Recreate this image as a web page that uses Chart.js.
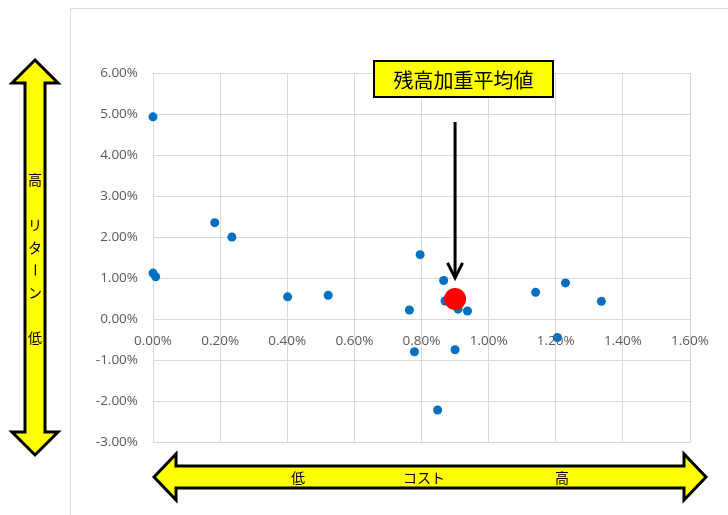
<!DOCTYPE html>
<html>
<head>
<meta charset="utf-8">
<script src="https://cdn.jsdelivr.net/npm/chart.js@4.4.1/dist/chart.umd.min.js"></script>
<style>
  html, body { margin: 0; padding: 0; background: #fff; }
  #wrap { width: 728px; height: 515px; }
</style>
</head>
<body>
<div id="wrap"><canvas id="c" width="728" height="515"></canvas></div>
<script>
// Cost (x, %) and return (y, %) of each fund
const costPct   = [0.000, 0.184, 0.235, 0.000, 0.008, 0.401, 0.522, 0.764, 0.796, 0.779,
                   0.866, 0.870, 0.909, 0.937, 0.900, 0.848, 1.140, 1.229, 1.336, 1.205];
const returnPct = [4.93, 2.35, 2.00, 1.12, 1.03, 0.54, 0.58, 0.22, 1.57, -0.80,
                   0.94, 0.44, 0.24, 0.195, -0.75, -2.22, 0.65, 0.88, 0.43, -0.45];
// Balance-weighted average of the portfolio
const avgCostPct   = [0.900];
const avgReturnPct = [0.49];
// Axis ticks (%)
const xTickValues = [0, 0.2, 0.4, 0.6, 0.8, 1.0, 1.2, 1.4, 1.6];
const yTickValues = [-3, -2, -1, 0, 1, 2, 3, 4, 5, 6];
// Annotation texts
const avgLabel = '残高加重平均値';
const returnAxisChars = ['高', '　', 'リ', 'タ', 'ー', 'ン', '　', '低'];
const costAxisTexts = ['低', 'コスト', '高'];

const pct = v => Number(v).toFixed(2) + '%';
const JP_FONT = '"Noto Sans CJK JP", "Noto Sans", sans-serif';
const TICK_FONT = { family: '"Open Sans", "Liberation Sans", sans-serif', size: 13.5 };

function doubleArrow(ctx, x1, y1, x2, y2, s, h, L) {
  const len = Math.hypot(x2 - x1, y2 - y1);
  const ang = Math.atan2(y2 - y1, x2 - x1);
  ctx.save();
  ctx.translate(x1, y1);
  ctx.rotate(ang);
  ctx.beginPath();
  ctx.moveTo(0, 0);
  ctx.lineTo(L, -h); ctx.lineTo(L, -s); ctx.lineTo(len - L, -s); ctx.lineTo(len - L, -h);
  ctx.lineTo(len, 0);
  ctx.lineTo(len - L, h); ctx.lineTo(len - L, s); ctx.lineTo(L, s); ctx.lineTo(L, h);
  ctx.closePath();
  ctx.fillStyle = '#ffff00';
  ctx.fill();
  ctx.lineWidth = 3;
  ctx.lineJoin = 'miter';
  ctx.strokeStyle = '#000';
  ctx.stroke();
  ctx.restore();
}

const decor = {
  id: 'decor',
  beforeDraw(chart) {
    const ctx = chart.ctx;
    ctx.save();
    ctx.fillStyle = '#fff';
    ctx.fillRect(0, 0, chart.width, chart.height);
    ctx.strokeStyle = '#d9d9d9';
    ctx.lineWidth = 1;
    ctx.strokeRect(70.5, 8.5, 700, 600);
    ctx.restore();
  },
  afterDraw(chart) {
    const ctx = chart.ctx;
    const xs = chart.scales.x, ys = chart.scales.y;

    // Return axis arrow (vertical)
    doubleArrow(ctx, 35, 60, 35, 455, 10, 23, 23);
    ctx.save();
    ctx.fillStyle = '#000';
    ctx.font = '14px ' + JP_FONT;
    ctx.textAlign = 'center';
    ctx.textBaseline = 'middle';
    returnAxisChars.forEach((ch, i) => {
      const y = 180 + i * 22.5;
      if (ch === 'ー') {
        ctx.save();
        ctx.translate(35, y);
        ctx.rotate(Math.PI / 2);
        ctx.fillText(ch, 0, 0);
        ctx.restore();
      } else {
        ctx.fillText(ch, 35, y);
      }
    });
    ctx.restore();

    // Cost axis arrow (horizontal)
    doubleArrow(ctx, 154, 477, 706, 477, 11, 23, 22);
    ctx.save();
    ctx.fillStyle = '#000';
    ctx.font = '14px ' + JP_FONT;
    ctx.textAlign = 'center';
    ctx.textBaseline = 'middle';
    [298, 424, 562].forEach((x, i) => ctx.fillText(costAxisTexts[i], x, 478));
    ctx.restore();

    // Label box and arrow pointing to the weighted average
    ctx.save();
    ctx.fillStyle = '#ffff00';
    ctx.fillRect(374, 61, 179, 36);
    ctx.lineWidth = 2;
    ctx.strokeStyle = '#000';
    ctx.strokeRect(374, 61, 179, 36);
    ctx.fillStyle = '#000';
    ctx.font = '20px ' + JP_FONT;
    ctx.textAlign = 'center';
    ctx.textBaseline = 'middle';
    ctx.fillText(avgLabel, 463.5, 80);

    const ax = xs.getPixelForValue(avgCostPct[0]);
    const tip = ys.getPixelForValue(avgReturnPct[0]) - 21;
    ctx.lineWidth = 3;
    ctx.beginPath();
    ctx.moveTo(ax, 122);
    ctx.lineTo(ax, tip);
    ctx.stroke();
    ctx.beginPath();
    ctx.moveTo(ax - 7.5, tip - 15);
    ctx.lineTo(ax, tip);
    ctx.lineTo(ax + 7.5, tip - 15);
    ctx.stroke();
    ctx.restore();
  }
};

const funds = costPct.map((x, i) => ({ x, y: returnPct[i] }));
const avg = avgCostPct.map((x, i) => ({ x, y: avgReturnPct[i] }));

new Chart(document.getElementById('c'), {
  type: 'scatter',
  data: {
    datasets: [
      { data: avg, order: 0, clip: false, pointRadius: 11, pointHoverRadius: 11,
        backgroundColor: '#ff0000', borderWidth: 0 },
      { data: funds, order: 1, clip: false, pointRadius: 4.5, pointHoverRadius: 4.5,
        backgroundColor: '#0070c0', borderWidth: 0 }
    ]
  },
  options: {
    responsive: false,
    animation: false,
    events: [],
    layout: { padding: { left: 0, right: 38, top: 73, bottom: 73 } },
    plugins: { legend: { display: false }, tooltip: { enabled: false } },
    scales: {
      x: {
        type: 'linear',
        position: { y: 0 },
        min: 0, max: 1.6,
        afterBuildTicks: s => { s.ticks = xTickValues.map(v => ({ value: v })); },
        grid: { color: '#d9d9d9', drawTicks: false },
        border: { color: '#d9d9d9' },
        ticks: { callback: pct, color: '#595959', padding: 14, maxRotation: 0, font: TICK_FONT }
      },
      y: {
        type: 'linear',
        position: 'left',
        min: -3, max: 6,
        afterBuildTicks: s => { s.ticks = yTickValues.map(v => ({ value: v })); },
        afterFit: s => { s.width = 153; },
        grid: { color: '#d9d9d9', drawTicks: false },
        border: { color: '#d9d9d9' },
        ticks: { callback: pct, color: '#595959', padding: 15, font: TICK_FONT }
      }
    }
  },
  plugins: [decor]
});
</script>
</body>
</html>
